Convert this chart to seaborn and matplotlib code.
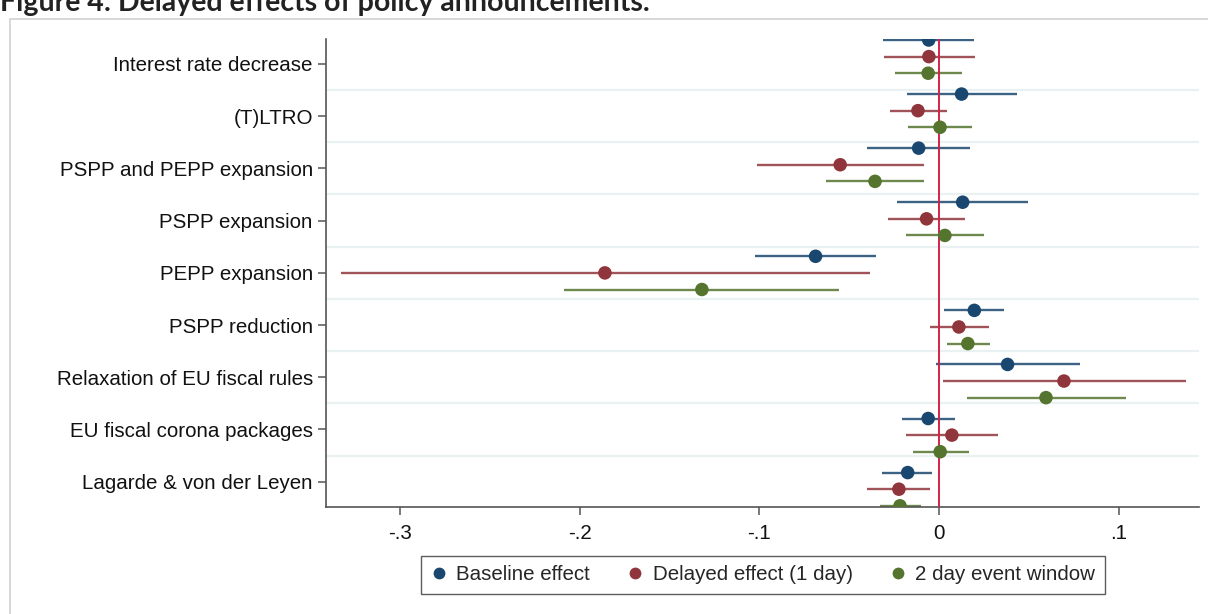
import numpy as np
import pandas as pd
import matplotlib
matplotlib.use("Agg")
import matplotlib.pyplot as plt
import seaborn as sns
from matplotlib.patches import Rectangle
from matplotlib.lines import Line2D

# ---------------- data ----------------
categories = ["Interest rate decrease", "(T)LTRO", "PSPP and PEPP expansion",
              "PSPP expansion", "PEPP expansion", "PSPP reduction",
              "Relaxation of EU fiscal rules", "EU fiscal corona packages",
              "Lagarde & von der Leyen"]
series = ["Baseline effect", "Delayed effect (1 day)", "2 day event window"]

baseline_est = [-0.0057, 0.0126, -0.0113, 0.0132, -0.0687, 0.0197, 0.0382, -0.0060, -0.0174]
baseline_lo = [-0.0310, -0.0180, -0.0400, -0.0232, -0.1024, 0.0030, -0.0017, -0.0206, -0.0315]
baseline_hi = [0.0197, 0.0434, 0.0173, 0.0497, -0.0351, 0.0362, 0.0783, 0.0087, -0.0037]

delayed_est = [-0.0056, -0.0117, -0.0550, -0.0069, -0.1860, 0.0111, 0.0696, 0.0072, -0.0223]
delayed_lo = [-0.0308, -0.0275, -0.1012, -0.0282, -0.3331, -0.0052, 0.0020, -0.0182, -0.0400]
delayed_hi = [0.0200, 0.0043, -0.0084, 0.0143, -0.0384, 0.0277, 0.1375, 0.0330, -0.0050]

window_est = [-0.0060, 0.0006, -0.0356, 0.0033, -0.1320, 0.0161, 0.0596, 0.0007, -0.0217]
window_lo = [-0.0243, -0.0170, -0.0627, -0.0186, -0.2086, 0.0043, 0.0158, -0.0147, -0.0330]
window_hi = [0.0126, 0.0184, -0.0084, 0.0252, -0.0555, 0.0282, 0.1039, 0.0165, -0.0102]

xticks = [-0.3, -0.2, -0.1, 0, 0.1]
xtick_labels = ["-.3", "-.2", "-.1", "0", ".1"]

title = "Figure 4: Delayed effects of policy announcements."

# ---------------- styling ----------------
sns.set_theme(style="white")
plt.rcParams["font.family"] = ["Liberation Sans", "DejaVu Sans"]

colors = ["#1a476f", "#90353b", "#55752f"]
palette = dict(zip(series, colors))

# build long table
ests = [baseline_est, delayed_est, window_est]
los = [baseline_lo, delayed_lo, window_lo]
his = [baseline_hi, delayed_hi, window_hi]
group_step, series_step, base = 1.0355, 0.318, -0.458
rows = []
for s, name in enumerate(series):
    for i, cat in enumerate(categories):
        rows.append(dict(series=name, category=cat,
                         est=ests[s][i], lo=los[s][i], hi=his[s][i],
                         ypos=base + i * group_step + s * series_step))
df = pd.DataFrame(rows)

W, H = 1208, 614
fig = plt.figure(figsize=(W / 100, H / 100), dpi=100)
fig.patch.set_facecolor("white")

# outer frame (right/bottom edges fall outside the picture)
fig.patches.append(Rectangle((10 / W, -0.2), 1.2, 1.2 - 19 / H, transform=fig.transFigure,
                             fill=False, edgecolor="#d4d4d4", linewidth=1.3, zorder=0))

ax = fig.add_axes([326 / W, 1 - 507 / H, (1199 - 326) / W, (507 - 39) / H])
ax.set_facecolor("white")

# gridlines between groups
for g in range(len(categories) - 1):
    ax.axhline(g + 0.5, color="#eaf1f3", linewidth=1.6, zorder=0)

# confidence intervals
for name, c in zip(series, colors):
    sub = df[df["series"] == name]
    ax.hlines(sub["ypos"], sub["lo"], sub["hi"], color=c, linewidth=1.7,
              alpha=0.85, zorder=2)

ax.axvline(0, color="#d3224a", linewidth=1.4, zorder=3)

sns.scatterplot(data=df, x="est", y="ypos", hue="series", palette=palette,
                s=95, edgecolor="none", linewidth=0, ax=ax, legend=False, zorder=4)

ax.set_xlim(-0.3413, 0.1448)
ax.set_ylim(8.485, -0.477)
ax.set_yticks(range(len(categories)))
ax.set_yticklabels(categories)
ax.set_xticks(xticks)
ax.set_xticklabels(xtick_labels)
ax.set_xlabel("")
ax.set_ylabel("")

for side in ["top", "right"]:
    ax.spines[side].set_visible(False)
for side in ["left", "bottom"]:
    ax.spines[side].set_color("#555555")
    ax.spines[side].set_linewidth(1.2)
ax.tick_params(axis="both", which="both", length=6, width=1.1, color="#555555",
               labelsize=14.8, labelcolor="#111111")
ax.tick_params(axis="y", pad=3.5, left=True)
ax.tick_params(axis="x", pad=6, bottom=True)

# legend
handles = [Line2D([], [], linestyle="none", marker="o", markersize=8.5,
                  markerfacecolor=c, markeredgecolor="none") for c in colors]
leg = fig.legend(handles, series, loc="center", bbox_to_anchor=(763 / W, 1 - 575 / H),
                 ncol=3, frameon=True, fancybox=False, fontsize=14.8,
                 handlelength=0.8, handletextpad=0.45, columnspacing=1.8,
                 borderpad=0.45, edgecolor="#333333")
leg.get_frame().set_linewidth(1.0)

# title (its top is cropped in the reference picture)
fig.text(0.0, 1 - 11 / H, title, fontsize=20.5, fontweight="bold", color="#222222",
         va="baseline", ha="left", family=["Lato", "DejaVu Sans"])

fig.savefig("out.png", dpi=100, facecolor="white")
